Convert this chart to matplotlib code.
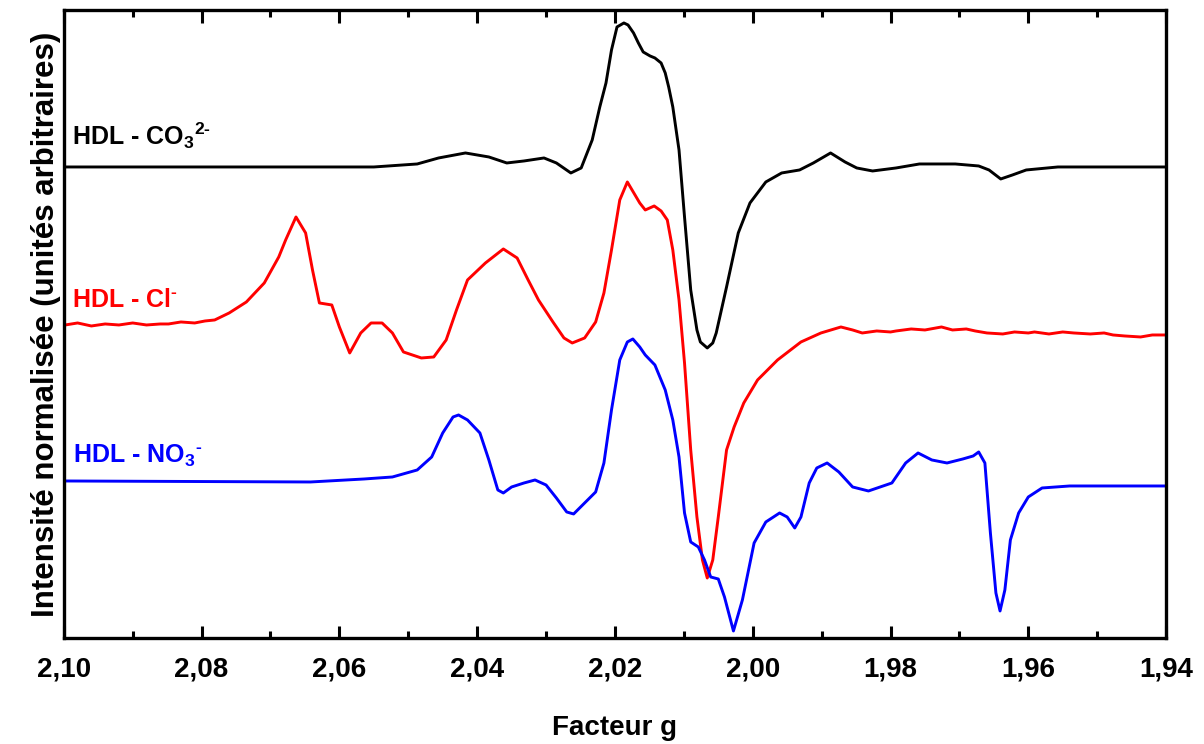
import matplotlib
matplotlib.use("Agg")
import matplotlib.pyplot as plt
from matplotlib.ticker import MultipleLocator, FuncFormatter

plt.rcParams['font.family'] = ['Liberation Sans', 'DejaVu Sans']
plt.rcParams['font.weight'] = 'bold'
plt.rcParams['mathtext.fontset'] = 'custom'
plt.rcParams['mathtext.rm'] = 'Liberation Sans:bold'
plt.rcParams['mathtext.default'] = 'regular'

# HDL - CO3 2-
g_co3 = [2.100, 2.055, 2.0487, 2.0456, 2.0417, 2.0383, 2.0357, 2.0332, 2.0303, 2.0285,
         2.0264, 2.0249, 2.0233, 2.0222, 2.0213, 2.0205, 2.0197, 2.0187, 2.0181, 2.0173,
         2.0166, 2.0159, 2.0149, 2.0142, 2.0133, 2.0127, 2.0122, 2.0116, 2.0107, 2.0099,
         2.0090, 2.0081, 2.0076, 2.0066, 2.0058, 2.0053, 2.0038, 2.0021, 2.0004, 1.9981,
         1.9958, 1.9932, 1.9912, 1.9887, 1.9866, 1.9849, 1.9826, 1.9792, 1.9758, 1.9706,
         1.9672, 1.9657, 1.9640, 1.9623, 1.9603, 1.9557, 1.940]
i_co3 = [471, 471, 474, 480, 485, 481, 475, 477, 480, 475,
         465, 470, 498, 531, 555, 588, 611, 615, 613, 605,
         595, 586, 582, 580, 575, 565, 551, 531, 488, 421,
         348, 308, 296, 290, 295, 305, 351, 405, 435, 456,
         465, 468, 475, 485, 476, 470, 467, 470, 474, 474,
         472, 468, 459, 463, 468, 471, 471]

# HDL - Cl-
g_cl = [2.0998, 2.098, 2.096, 2.094, 2.092, 2.090, 2.088, 2.086, 2.0848, 2.083,
        2.081, 2.0795, 2.0781, 2.0760, 2.0735, 2.0709, 2.0688, 2.0678, 2.0663, 2.0649,
        2.0639, 2.0629, 2.0611, 2.0600, 2.0585, 2.0569, 2.0554, 2.0538, 2.0523, 2.0507,
        2.0481, 2.0463, 2.0445, 2.0430, 2.0414, 2.0388, 2.0362, 2.0342, 2.0326, 2.0311,
        2.0290, 2.0274, 2.0262, 2.0244, 2.0228, 2.0216, 2.0205, 2.0193, 2.0182, 2.0164,
        2.0156, 2.0143, 2.0133, 2.0124, 2.0116, 2.0107, 2.0099, 2.0090, 2.0081, 2.0073,
        2.0066, 2.0058, 2.0050, 2.0038, 2.0027, 2.0013, 1.9993, 1.9964, 1.9930, 1.9901,
        1.9872, 1.9855, 1.9841, 1.982, 1.980, 1.9792, 1.977, 1.975, 1.9726, 1.971,
        1.969, 1.9677, 1.966, 1.9637, 1.962, 1.960, 1.9591, 1.957, 1.955, 1.9534,
        1.951, 1.949, 1.9477, 1.946, 1.9437, 1.942, 1.9402]
i_cl = [313, 315, 312, 314, 313, 315, 313, 314, 314, 316,
        315, 317, 318, 325, 336, 355, 381, 398, 421, 405,
        368, 335, 333, 311, 285, 305, 315, 315, 305, 286,
        280, 281, 298, 328, 358, 375, 389, 380, 358, 338,
        316, 300, 295, 300, 316, 345, 388, 438, 456, 435,
        428, 432, 427, 418, 388, 338, 275, 188, 121, 78,
        60, 78, 121, 188, 211, 235, 258, 278, 296, 305,
        311, 308, 305, 307, 306, 307, 309, 308, 311, 308,
        309, 307, 305, 304, 306, 305, 306, 304, 306, 305,
        304, 305, 303, 302, 301, 303, 303]

# HDL - NO3-
g_no3 = [2.0998, 2.0642, 2.0564, 2.0523, 2.0487, 2.0466, 2.0450, 2.0435, 2.0427, 2.0414,
         2.0396, 2.0383, 2.0370, 2.0362, 2.0350, 2.0332, 2.0316, 2.0300, 2.0285, 2.0270,
         2.0260, 2.0244, 2.0228, 2.0216, 2.0205, 2.0193, 2.0182, 2.0174, 2.0164, 2.0156,
         2.0142, 2.0127, 2.0116, 2.0107, 2.0099, 2.0090, 2.0079, 2.0070, 2.0061, 2.0050,
         2.0041, 2.0028, 2.0015, 1.9998, 1.9981, 1.9961, 1.9950, 1.9939, 1.9930, 1.9918,
         1.9907, 1.9892, 1.9875, 1.9855, 1.9832, 1.9798, 1.9778, 1.9760, 1.9740, 1.9718,
         1.9695, 1.9680, 1.9672, 1.9663, 1.9655, 1.9647, 1.9641, 1.9634, 1.9626, 1.9614,
         1.9600, 1.9580, 1.9540, 1.9402]
i_no3 = [157, 156, 159, 161, 168, 181, 205, 221, 223, 218,
         205, 178, 148, 145, 151, 155, 158, 153, 140, 126,
         124, 135, 146, 175, 228, 278, 296, 299, 291, 283,
         273, 248, 218, 181, 125, 96, 91, 78, 61, 59,
         41, 7, 38, 95, 116, 125, 121, 110, 121, 155,
         170, 175, 166, 151, 147, 155, 175, 185, 178, 175,
         179, 182, 186, 175, 105, 45, 27, 48, 98, 125,
         141, 150, 152, 152]

fig = plt.figure(figsize=(12.04, 7.44), dpi=100)
ax = fig.add_axes([0.053, 0.1425, 0.9155, 0.8441])

ax.plot(g_co3, i_co3, color='black', lw=2.1, solid_joinstyle='round')
ax.plot(g_cl, i_cl, color='red', lw=2.1, solid_joinstyle='round')
ax.plot(g_no3, i_no3, color='blue', lw=2.1, solid_joinstyle='round')

ax.text(0.007, 0.785, r'HDL - CO$_3$$^{\text{2-}}$', transform=ax.transAxes, color='black', fontsize=18)
ax.text(0.007, 0.527, r'HDL - Cl$^{\text{-}}$', transform=ax.transAxes, color='red', fontsize=18)
ax.text(0.008, 0.279, r'HDL - NO$_3$$^{\text{-}}$', transform=ax.transAxes, color='blue', fontsize=18)

ax.set_xlim(2.10, 1.94)
ax.set_ylim(0, 628)
ax.xaxis.set_major_locator(MultipleLocator(0.02))
ax.xaxis.set_minor_locator(MultipleLocator(0.01))
ax.xaxis.set_major_formatter(FuncFormatter(lambda v, p: f'{v:.2f}'.replace('.', ',')))
ax.tick_params(axis='x', which='both', direction='in', top=True, width=2.2, labelsize=20, pad=13)
ax.tick_params(axis='x', which='major', length=9)
ax.tick_params(axis='x', which='minor', length=5)
ax.set_yticks([])
for s in ax.spines.values():
    s.set_linewidth(2.4)

ax.set_xlabel('Facteur g', fontsize=20, fontweight='bold', labelpad=24)
ax.set_ylabel('Intensité normalisée (unités arbitraires)', fontsize=22.5, fontweight='bold', labelpad=2)

fig.savefig('out.png', dpi=100)
